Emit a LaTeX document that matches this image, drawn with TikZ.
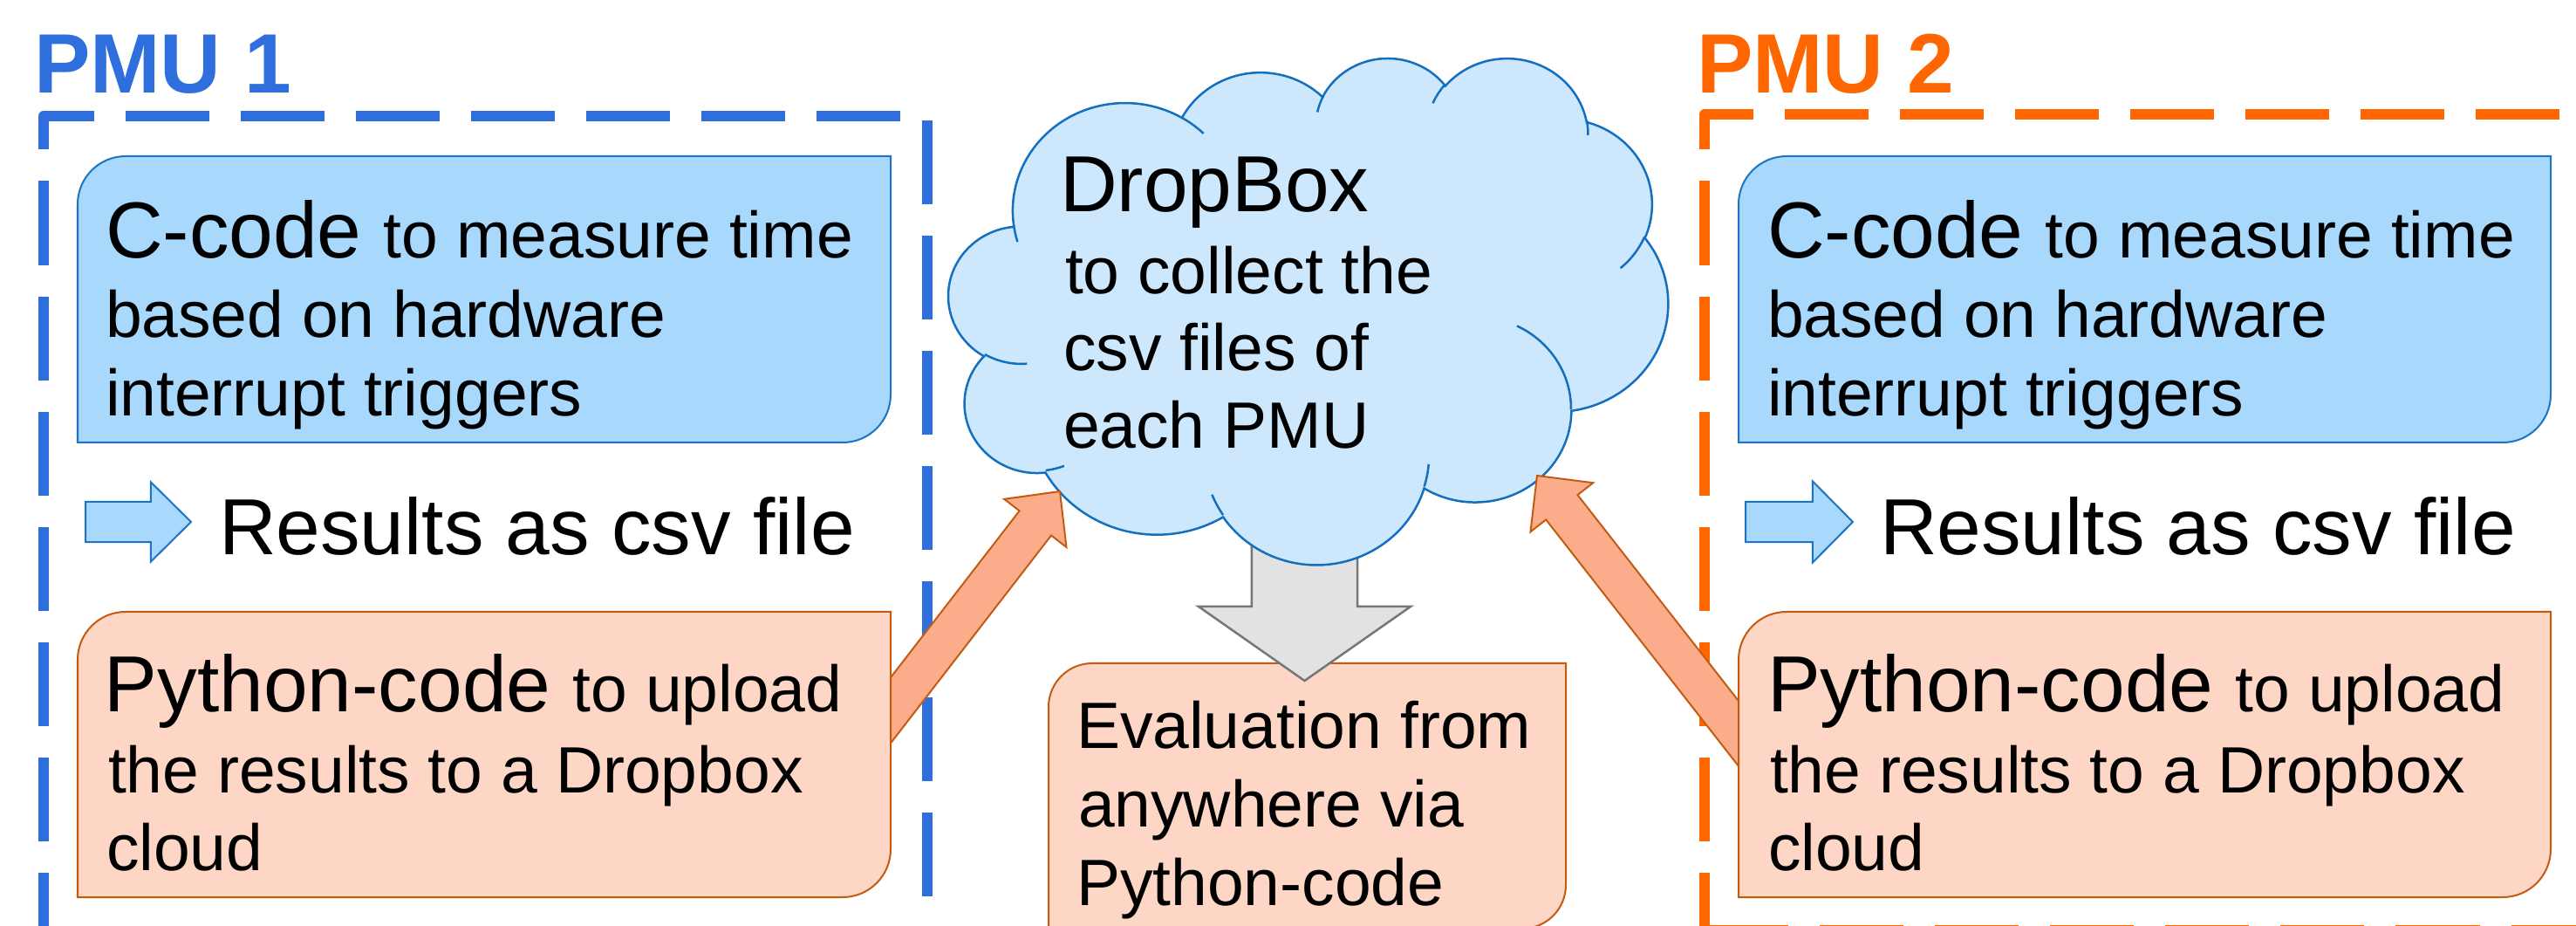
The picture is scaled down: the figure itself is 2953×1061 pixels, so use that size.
\documentclass[tikz,border=0pt]{standalone}
\usepackage{fontspec}
\setmainfont{Liberation Sans}
\usetikzlibrary{calc}
\definecolor{pmublue}{RGB}{47,111,221}
\definecolor{pmuorange}{RGB}{255,102,0}
\definecolor{boxblue}{RGB}{168,216,251}
\definecolor{boxblueline}{RGB}{30,115,195}
\definecolor{cloudfill}{RGB}{205,232,252}
\definecolor{cloudline}{RGB}{20,112,190}
\definecolor{boxorange}{RGB}{253,214,197}
\definecolor{boxorangeline}{RGB}{197,90,17}
\definecolor{arroworange}{RGB}{251,172,138}
\definecolor{arrowgray}{RGB}{226,226,226}
\definecolor{arrowgrayline}{RGB}{118,118,118}
\newcommand\bigf{\fontsize{25.9pt}{25.9pt}\selectfont}
\newcommand\smallf{\fontsize{21.34pt}{25.75pt}\selectfont}
\newcommand\pmuf{\fontsize{27.46pt}{27.46pt}\selectfont\bfseries}
% round-diagonal-corner box: style, x0, y0, x1, y1, r
\newcommand\rdbox[6]{%
  \filldraw[#1] (#2,#5) -- (#2,#3+#6) arc[start angle=180,end angle=270,radius=#6]
    -- (#4,#3) -- (#4,#5-#6) arc[start angle=0,end angle=90,radius=#6] -- cycle;}
% block arrow: name, style, tail, tip, half shaft, half head, head length
\newcommand\blockarrow[7]{%
  \coordinate (#1m) at ($(#4)!#7!(#3)$);
  \filldraw[#2] ($(#3)!#5!90:(#4)$) -- ($(#1m)!#5!90:(#4)$) -- ($(#1m)!#6!90:(#4)$)
    -- (#4) -- ($(#1m)!#6!-90:(#4)$) -- ($(#1m)!#5!-90:(#4)$) -- ($(#3)!#5!-90:(#4)$) -- cycle;}
\tikzset{
  frameblue/.style={draw=pmublue, line width=0.12cm, dash pattern=on 0.96cm off 0.36cm, line join=round},
  frameorange/.style={draw=pmuorange, line width=0.12cm, dash pattern=on 0.96cm off 0.36cm, line join=round},
  bluebox/.style={fill=boxblue, draw=boxblueline, line width=0.02cm},
  orangebox/.style={fill=boxorange, draw=boxorangeline, line width=0.02cm},
  cloudshape/.style={fill=cloudfill, draw=cloudline, line width=0.025cm},
  cloudinner/.style={draw=cloudline, line width=0.025cm},
  orangearrow/.style={fill=arroworange, draw=boxorangeline, line width=0.02cm},
  grayarrow/.style={fill=arrowgray, draw=arrowgrayline, line width=0.025cm},
  smallarrow/.style={fill=boxblue, draw=boxblueline, line width=0.02cm},
  txt/.style={anchor=base west, inner sep=0pt, outer sep=0pt, font=\smallf},
  bigtxt/.style={anchor=base west, inner sep=0pt, outer sep=0pt, font=\bigf},
  pmutxt/.style={anchor=base west, inner sep=0pt, outer sep=0pt, font=\pmuf},
}
\begin{document}
\begin{tikzpicture}[x=0.01cm, y=-0.01cm,
  declare function={ooa(\oa,\ow,\oh)=\oa+mod(atan2(\ow*sin(\oa),\oh*cos(\oa))-\oa+1260,360)-180;}]
\useasboundingbox (0,0) rectangle (2953,1061);
\clip (0,0) rectangle (2953,1061);
\fill[white] (0,0) rectangle (2953,1061);

% dashed PMU frames
\draw[frameblue] (50,1096) -- (50,133) -- (1063,133) -- (1063,1100);
\draw[frameorange] (1954,1096) -- (1954,131) -- (3100,131);
\draw[frameorange] (1954,1066) -- (3100,1066);

% PMU titles
\node[pmutxt, text=pmublue] (pmu1) at (39,107) {PMU 1};
\node[pmutxt, text=pmuorange] (pmu2) at (1945,107) {PMU 2};

% evaluation box
\rdbox{orangebox}{1202}{760}{1795}{1064}{50}

% gray arrow from cloud to evaluation box
\coordinate (cloudB) at (1495.5,600);
\coordinate (evalT) at (1495.5,780);
\blockarrow{ga}{grayarrow}{cloudB}{evalT}{0.605cm}{1.215cm}{0.85cm}

% cloud (DropBox)
\begin{scope}[shift={(1087.7,65.1)}, x=0.0019049cm, y=-0.0013444cm]
\filldraw[cloudshape] (390,1437)
  arc[start angle={ooa(-190.4875,675.3,919)}, end angle={ooa(-66.707,675.3,919)}, x radius=675.3, y radius=919]
  arc[start angle={ooa(-144.1024,533.3,726.7)}, end angle={ooa(-54.1572,533.3,726.7)}, x radius=533.3, y radius=726.7]
  arc[start angle={ooa(-145.8079,436.5,594.5)}, end angle={ooa(-46.0849,436.5,594.5)}, x radius=436.5, y radius=594.5]
  arc[start angle={ooa(-130.9861,485.7,659.5)}, end angle={ooa(-13.7444,485.7,659.5)}, x radius=485.7, y radius=659.5]
  arc[start angle={ooa(-78.7089,533.3,727.3)}, end angle={ooa(30.318,533.3,727.3)}, x radius=533.3, y radius=727.3]
  arc[start angle={ooa(-46.2673,677.5,922)}, end angle={ooa(84.0017,677.5,922)}, x radius=677.5, y radius=922]
  arc[start angle={ooa(0.625,578.5,786.7)}, end angle={ooa(114.6583,578.5,786.7)}, x radius=578.5, y radius=786.7]
  arc[start angle={ooa(22.4516,675.2,921.5)}, end angle={ooa(137.6242,675.2,921.5)}, x radius=675.2, y radius=921.5]
  arc[start angle={ooa(66.2426,772,1054.3)}, end angle={ooa(141.9536,772,1054.3)}, x radius=772, y radius=1054.3]
  arc[start angle={ooa(-274.9421,436,591.8)}, end angle={ooa(-128.2065,436,591.8)}, x radius=436, y radius=591.8]
  arc[start angle={ooa(-246.8285,434.5,594.5)}, end angle={ooa(-94.3096,434.5,594.5)}, x radius=434.5, y radius=594.5]
  -- cycle;
\draw[cloudinner]
  (469.3,2617.7) arc[start angle={ooa(86.742,434.5,594.5)}, end angle={ooa(113.1715,434.5,594.5)}, x radius=434.5, y radius=594.5]
  (692.8,3489.9) arc[start angle={ooa(73.6105,436,591.8)}, end angle={ooa(85.058,436,591.8)}, x radius=436, y radius=591.8]
  (1647.8,3909) arc[start angle={ooa(137.6242,675.2,921.5)}, end angle={ooa(151.7053,675.2,921.5)}, x radius=675.2, y radius=921.5]
  (2882.7,3475.1) arc[start angle={ooa(6.4533,675.2,921.5)}, end angle={ooa(22.4517,675.2,921.5)}, x radius=675.2, y radius=921.5]
  (3412.9,2295.4) arc[start angle={ooa(-70.2924,578.5,786.7)}, end angle={ooa(0.625,578.5,786.7)}, x radius=578.5, y radius=786.7]
  (4179.8,1535.4) arc[start angle={ooa(30.318,533.3,727.3)}, end angle={ooa(58.0695,533.3,727.3)}, x radius=533.3, y radius=727.3]
  (3832.4,542.6) arc[start angle={ooa(-13.7443,485.7,659.5)}, end angle={ooa(1.1146,485.7,659.5)}, x radius=485.7, y radius=659.5]
  (2907.8,395.2) arc[start angle={ooa(-149.1815,485.7,659.5)}, end angle={ooa(-130.9861,485.7,659.5)}, x radius=485.7, y radius=659.5]
  (2214.1,472) arc[start angle={ooa(-163.4943,436.5,594.5)}, end angle={ooa(-145.8079,436.5,594.5)}, x radius=436.5, y radius=594.5]
  (1400,519.2) arc[start angle={ooa(-66.707,675.3,919)}, end angle={ooa(-54.3876,675.3,919)}, x radius=675.3, y radius=919]
  (412.7,1578.9) arc[start angle={ooa(157.6544,675.3,919)}, end angle={ooa(169.5126,675.3,919)}, x radius=675.3, y radius=919];
\end{scope}

% cloud text
\node[bigtxt] (db1) at (1215,243) {DropBox};
\node[txt] (db2) at (1221,337) {to collect the};
\node[txt] (db3) at (1219,424.5) {csv files of};
\node[txt] (db4) at (1219,514) {each PMU};

% evaluation text
\node[txt] (ev1) at (1234,857) {Evaluation from};
\node[txt] (ev2) at (1236,947) {anywhere via};
\node[txt] (ev3) at (1234,1037) {Python-code};

% orange upload arrows (under python boxes)
\coordinate (py1tail) at (990,854);
\coordinate (cloudL) at (1215,563);
\blockarrow{la}{orangearrow}{py1tail}{cloudL}{0.23cm}{0.45cm}{0.46cm}
\coordinate (py2tail) at (2020,875);
\coordinate (cloudR) at (1762,545);
\blockarrow{ra}{orangearrow}{py2tail}{cloudR}{0.23cm}{0.455cm}{0.46cm}

% PMU 1 boxes
\rdbox{bluebox}{89}{179}{1021}{507}{55}
\rdbox{orangebox}{89}{701}{1021}{1028}{55}
\node[bigtxt] (c1a) at (121,296) {C-code {\smallf to measure time}};
\node[txt] (c1b) at (121,387) {based on hardware};
\node[txt] (c1c) at (121,477) {interrupt triggers};
\coordinate (sa1t) at (98,598);
\coordinate (sa1h) at (219,598);
\blockarrow{sa1}{smallarrow}{sa1t}{sa1h}{0.23cm}{0.455cm}{0.46cm}
\node[bigtxt] (r1) at (251,636) {Results as csv file};
\node[bigtxt] (p1a) at (120,815) {Python-code {\smallf to upload}};
\node[txt] (p1b) at (124,908) {the results to a Dropbox};
\node[txt] (p1c) at (122,997) {cloud};

% PMU 2 boxes
\rdbox{bluebox}{1993}{179}{2924}{507}{55}
\rdbox{orangebox}{1993}{701}{2924}{1028}{55}
\node[bigtxt] (c2a) at (2026,296) {C-code {\smallf to measure time}};
\node[txt] (c2b) at (2026,387) {based on hardware};
\node[txt] (c2c) at (2026,477) {interrupt triggers};
\coordinate (sa2t) at (2001,598);
\coordinate (sa2h) at (2124,598);
\blockarrow{sa2}{smallarrow}{sa2t}{sa2h}{0.23cm}{0.465cm}{0.46cm}
\node[bigtxt] (r2) at (2155,636) {Results as csv file};
\node[bigtxt] (p2a) at (2026,815) {Python-code {\smallf to upload}};
\node[txt] (p2b) at (2029,908) {the results to a Dropbox};
\node[txt] (p2c) at (2027,997) {cloud};
\end{tikzpicture}
\end{document}
